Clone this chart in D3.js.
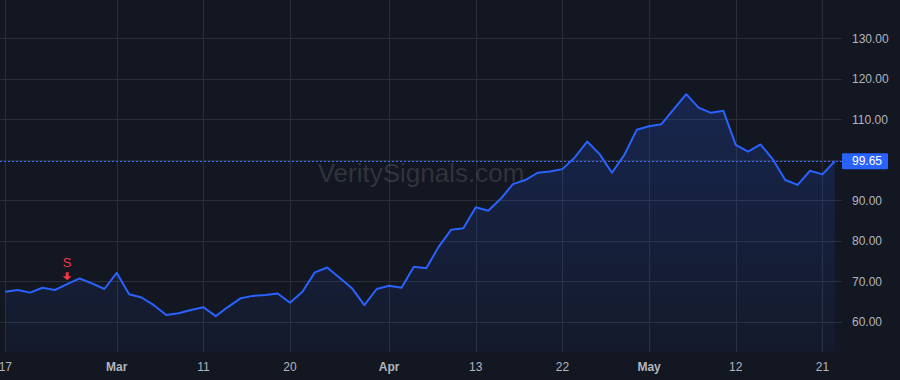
<!DOCTYPE html>
<html>
<head>
<meta charset="utf-8">
<script src="https://cdn.jsdelivr.net/npm/d3@7"></script>
<style>
  html, body { margin: 0; padding: 0; background: #131722; }
  svg { display: block; }
</style>
</head>
<body>
<svg id="chart"></svg>
<script>
var W = 900, H = 380;
var plotRight = 835, plotBottom = 352;

// trading days, 2026
var dates = [
  "2026-02-17","2026-02-18","2026-02-19","2026-02-20",
  "2026-02-23","2026-02-24","2026-02-25","2026-02-26","2026-02-27",
  "2026-03-02","2026-03-03","2026-03-04","2026-03-05","2026-03-06",
  "2026-03-09","2026-03-10","2026-03-11","2026-03-12","2026-03-13",
  "2026-03-16","2026-03-17","2026-03-18","2026-03-19","2026-03-20",
  "2026-03-23","2026-03-24","2026-03-25","2026-03-26","2026-03-27",
  "2026-03-30","2026-03-31","2026-04-01","2026-04-02",
  "2026-04-06","2026-04-07","2026-04-08","2026-04-09","2026-04-10",
  "2026-04-13","2026-04-14","2026-04-15","2026-04-16","2026-04-17",
  "2026-04-20","2026-04-21","2026-04-22","2026-04-23","2026-04-24",
  "2026-04-27","2026-04-28","2026-04-29","2026-04-30","2026-05-01",
  "2026-05-04","2026-05-05","2026-05-06","2026-05-07","2026-05-08",
  "2026-05-11","2026-05-12","2026-05-13","2026-05-14","2026-05-15",
  "2026-05-18","2026-05-19","2026-05-20","2026-05-21","2026-05-22"
];

var closes = [
  67.4, 67.85, 67.2, 68.4,
  67.85, 69.3, 70.7, 69.5, 68.1,
  72.1, 66.8, 66.0, 64.1, 61.7,
  62.1, 62.9, 63.6, 61.4, 63.7,
  65.8, 66.4, 66.6, 67.0, 64.7,
  67.4, 72.2, 73.4, 70.9, 68.3,
  64.1, 68.1, 68.9, 68.4,
  73.6, 73.2, 78.5, 82.7, 83.1,
  88.3, 87.4, 90.3, 94.0, 95.0,
  96.8, 97.1, 97.7, 100.6, 104.5,
  101.4, 96.8, 101.2, 107.4, 108.3,
  108.8, 112.5, 116.2, 112.9, 111.6,
  112.1, 103.7, 102.0, 103.8, 100.1,
  95.0, 93.8, 97.3, 96.4, 99.65
];

var tickDates  = ["2026-02-17","2026-03-02","2026-03-11","2026-03-20","2026-04-01","2026-04-13","2026-04-22","2026-05-01","2026-05-12","2026-05-21"];
var tickLabels = ["17","Mar","11","20","Apr","13","22","May","12","21"];
var tickBold   = [false,true,false,false,true,false,false,true,false,false];

var priceTicks = [60,70,80,90,100,110,120,130];
var lastPrice = 99.65;

var signalDates  = ["2026-02-24"];
var signalLabels = ["S"];

var svg = d3.select('#chart').attr('width', W).attr('height', H);

var x = d3.scalePoint().domain(dates).range([5.3, 834.8]);
var y = d3.scaleLinear().domain([60, 130]).range([321.8, 38.3]);

var axisFont = '"Liberation Sans", Arial, sans-serif';

// gradient for area
var defs = svg.append('defs');
var grad = defs.append('linearGradient').attr('id','areaGrad')
  .attr('gradientUnits','userSpaceOnUse')
  .attr('x1',0).attr('y1',y(d3.max(closes))).attr('x2',0).attr('y2',plotBottom);
grad.append('stop').attr('offset','0%').attr('stop-color','#2962ff').attr('stop-opacity',0.2);
grad.append('stop').attr('offset','100%').attr('stop-color','#2962ff').attr('stop-opacity',0.04);

// grid
var grid = svg.append('g');
grid.selectAll('line.h')
  .data(priceTicks.concat([140]))
  .enter().append('line')
  .attr('class','h')
  .attr('x1',0).attr('x2',842)
  .attr('y1',function(d){ return Math.round(y(d))+0.5; })
  .attr('y2',function(d){ return Math.round(y(d))+0.5; })
  .attr('stroke','#2a2e39').attr('stroke-width',1);
grid.selectAll('line.v')
  .data(tickDates)
  .enter().append('line')
  .attr('class','v')
  .attr('x1',function(d){ return Math.round(x(d))+0.5; })
  .attr('x2',function(d){ return Math.round(x(d))+0.5; })
  .attr('y1',0).attr('y2',plotBottom)
  .attr('stroke','#2a2e39').attr('stroke-width',1);

// watermark
svg.append('text')
  .attr('x',421).attr('y',182)
  .attr('text-anchor','middle')
  .attr('font-family',axisFont)
  .attr('font-size',26)
  .attr('fill','#ffffff').attr('fill-opacity',0.13)
  .text('VeritySignals.com');

// area + line
var area = d3.area()
  .x(function(d,i){ return x(dates[i]); })
  .y0(plotBottom)
  .y1(function(d){ return y(d); });
svg.append('path').datum(closes)
  .attr('d',area)
  .attr('fill','url(#areaGrad)');

var line = d3.line()
  .x(function(d,i){ return x(dates[i]); })
  .y(function(d){ return y(d); });

// last price dotted line
svg.append('line')
  .attr('x1',0).attr('x2',842)
  .attr('y1',Math.round(y(lastPrice))+0.5).attr('y2',Math.round(y(lastPrice))+0.5)
  .attr('stroke','#3d6bff').attr('stroke-width',1)
  .attr('stroke-dasharray','2,2');

svg.append('path').datum(closes)
  .attr('d',line)
  .attr('fill','none')
  .attr('stroke','#2962ff')
  .attr('stroke-width',2)
  .attr('stroke-linejoin','round');

// signal markers
signalDates.forEach(function(sd,k){
  var i = dates.indexOf(sd);
  var cx = x(sd), cy = y(closes[i]);
  var tip = cy - 4;
  svg.append('path')
    .attr('d', 'M'+(cx-1.5)+','+(tip-8)+' L'+(cx+1.5)+','+(tip-8)+' L'+(cx+1.5)+','+(tip-4)+
               ' L'+(cx+4.5)+','+(tip-4)+' L'+cx+','+tip+' L'+(cx-4.5)+','+(tip-4)+
               ' L'+(cx-1.5)+','+(tip-4)+'Z')
    .attr('fill','#f23645');
  svg.append('text')
    .attr('x',cx).attr('y',tip-13.5)
    .attr('text-anchor','middle')
    .attr('font-family',axisFont)
    .attr('font-size',13)
    .attr('fill','#f23645')
    .text(signalLabels[k]);
});

// right price axis labels (the one under the price tag is hidden)
var ly = y(lastPrice);
svg.selectAll('text.ylab')
  .data(priceTicks.filter(function(d){ return Math.abs(y(d) - ly) > 14; }))
  .enter().append('text')
  .attr('class','ylab')
  .attr('x',852)
  .attr('y',function(d){ return y(d); })
  .attr('dy','0.35em')
  .attr('font-family',axisFont)
  .attr('font-size',12)
  .attr('fill','#b2b5be')
  .text(function(d){ return d.toFixed(2); });

// last price tag
svg.append('rect')
  .attr('x',842).attr('y',ly-8).attr('width',46).attr('height',16)
  .attr('rx',1)
  .attr('fill','#2962ff');
svg.append('text')
  .attr('x',852).attr('y',ly).attr('dy','0.35em')
  .attr('font-family',axisFont)
  .attr('font-size',12)
  .attr('fill','#ffffff')
  .text(lastPrice.toFixed(2));

// bottom time axis labels
svg.selectAll('text.xlab')
  .data(tickDates)
  .enter().append('text')
  .attr('class','xlab')
  .attr('x',function(d){ return x(d); })
  .attr('y',371)
  .attr('text-anchor','middle')
  .attr('font-family',axisFont)
  .attr('font-size',12)
  .attr('font-weight',function(d,i){ return tickBold[i] ? 'bold' : 'normal'; })
  .attr('fill','#b2b5be')
  .text(function(d,i){ return tickLabels[i]; });
</script>
</body>
</html>
